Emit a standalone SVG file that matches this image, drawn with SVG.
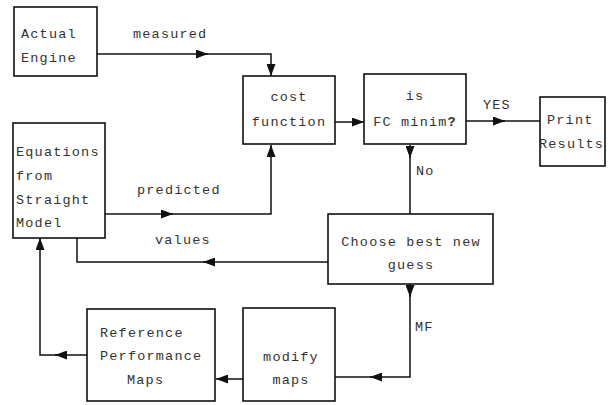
<svg xmlns="http://www.w3.org/2000/svg" width="610" height="405" viewBox="0 0 610 405">
<style>
.box{fill:#fff;stroke:#111;stroke-width:1.6}
.ln{fill:none;stroke:#111;stroke-width:1.5}
text{font-family:"Liberation Mono","DejaVu Sans Mono",monospace;font-size:13.5px;letter-spacing:1.2px;fill:#333}
.c{text-anchor:middle}
</style>
<defs>
<marker id="ah" markerUnits="userSpaceOnUse" markerWidth="12" markerHeight="9" refX="12" refY="4.5" orient="auto">
<path d="M0 0 L12 4.5 L0 9 Z" fill="#111"/>
</marker>
</defs>
<rect width="610" height="405" fill="#fff"/>
<g id="connectors">
<path class="ln" d="M97 54 H208" marker-end="url(#ah)"/>
<path class="ln" d="M205 54 H271 V76" marker-end="url(#ah)"/>
<path class="ln" d="M105 214 H173" marker-end="url(#ah)"/>
<path class="ln" d="M170 214 H271 V145" marker-end="url(#ah)"/>
<path class="ln" d="M335 122 H364" marker-end="url(#ah)"/>
<path class="ln" d="M466 121 H505" marker-end="url(#ah)"/>
<path class="ln" d="M502 121 H540"/>
<path class="ln" d="M410 145 V158" marker-end="url(#ah)"/>
<path class="ln" d="M410 156 V214"/>
<path class="ln" d="M410 284 V297" marker-end="url(#ah)"/>
<path class="ln" d="M410 295 V377 H370" marker-end="url(#ah)"/>
<path class="ln" d="M372 377 H335"/>
<path class="ln" d="M243 379 H216" marker-end="url(#ah)"/>
<path class="ln" d="M87 355 H55" marker-end="url(#ah)"/>
<path class="ln" d="M58 355 H40 V238" marker-end="url(#ah)"/>
<path class="ln" d="M328 262 H203" marker-end="url(#ah)"/>
<path class="ln" d="M206 262 H77 V238"/>
</g>
<g id="labels">
<text x="133" y="38">measured</text>
<text x="137" y="194">predicted</text>
<text x="155" y="244">values</text>
<text x="483" y="109">YES</text>
<text x="416" y="175">No</text>
<text x="415" y="331">MF</text>
</g>
<g id="actual-engine">
<rect class="box" x="14" y="7" width="83" height="69"/>
<text x="21" y="38">Actual</text>
<text x="21" y="62">Engine</text>
</g>
<g id="cost-function">
<rect class="box" x="243" y="76" width="92" height="68"/>
<text class="c" x="289" y="101">cost</text>
<text class="c" x="289" y="126">function</text>
</g>
<g id="fc-minim">
<rect class="box" x="364" y="74" width="102" height="70"/>
<text class="c" x="415" y="100">is</text>
<text class="c" x="415" y="126">FC minim<tspan font-weight="bold">?</tspan></text>
</g>
<g id="print-results">
<rect class="box" x="540" y="97" width="65" height="69"/>
<text x="547" y="124">Print</text>
<text x="539" y="148">Results</text>
</g>
<g id="equations">
<rect class="box" x="13" y="123" width="92" height="115"/>
<text x="16" y="156">Equations</text>
<text x="16" y="180">from</text>
<text x="16" y="204">Straight</text>
<text x="16" y="227">Model</text>
</g>
<g id="choose-guess">
<rect class="box" x="328" y="214" width="165" height="70"/>
<text class="c" x="411" y="246">Choose best new</text>
<text class="c" x="411" y="269">guess</text>
</g>
<g id="modify-maps">
<rect class="box" x="243" y="308" width="92" height="93"/>
<text class="c" x="291" y="361">modify</text>
<text class="c" x="291" y="384">maps</text>
</g>
<g id="reference-maps">
<rect class="box" x="87" y="309" width="128" height="92"/>
<text x="100" y="337">Reference</text>
<text x="100" y="360">Performance</text>
<text x="127" y="384">Maps</text>
</g>
</svg>
